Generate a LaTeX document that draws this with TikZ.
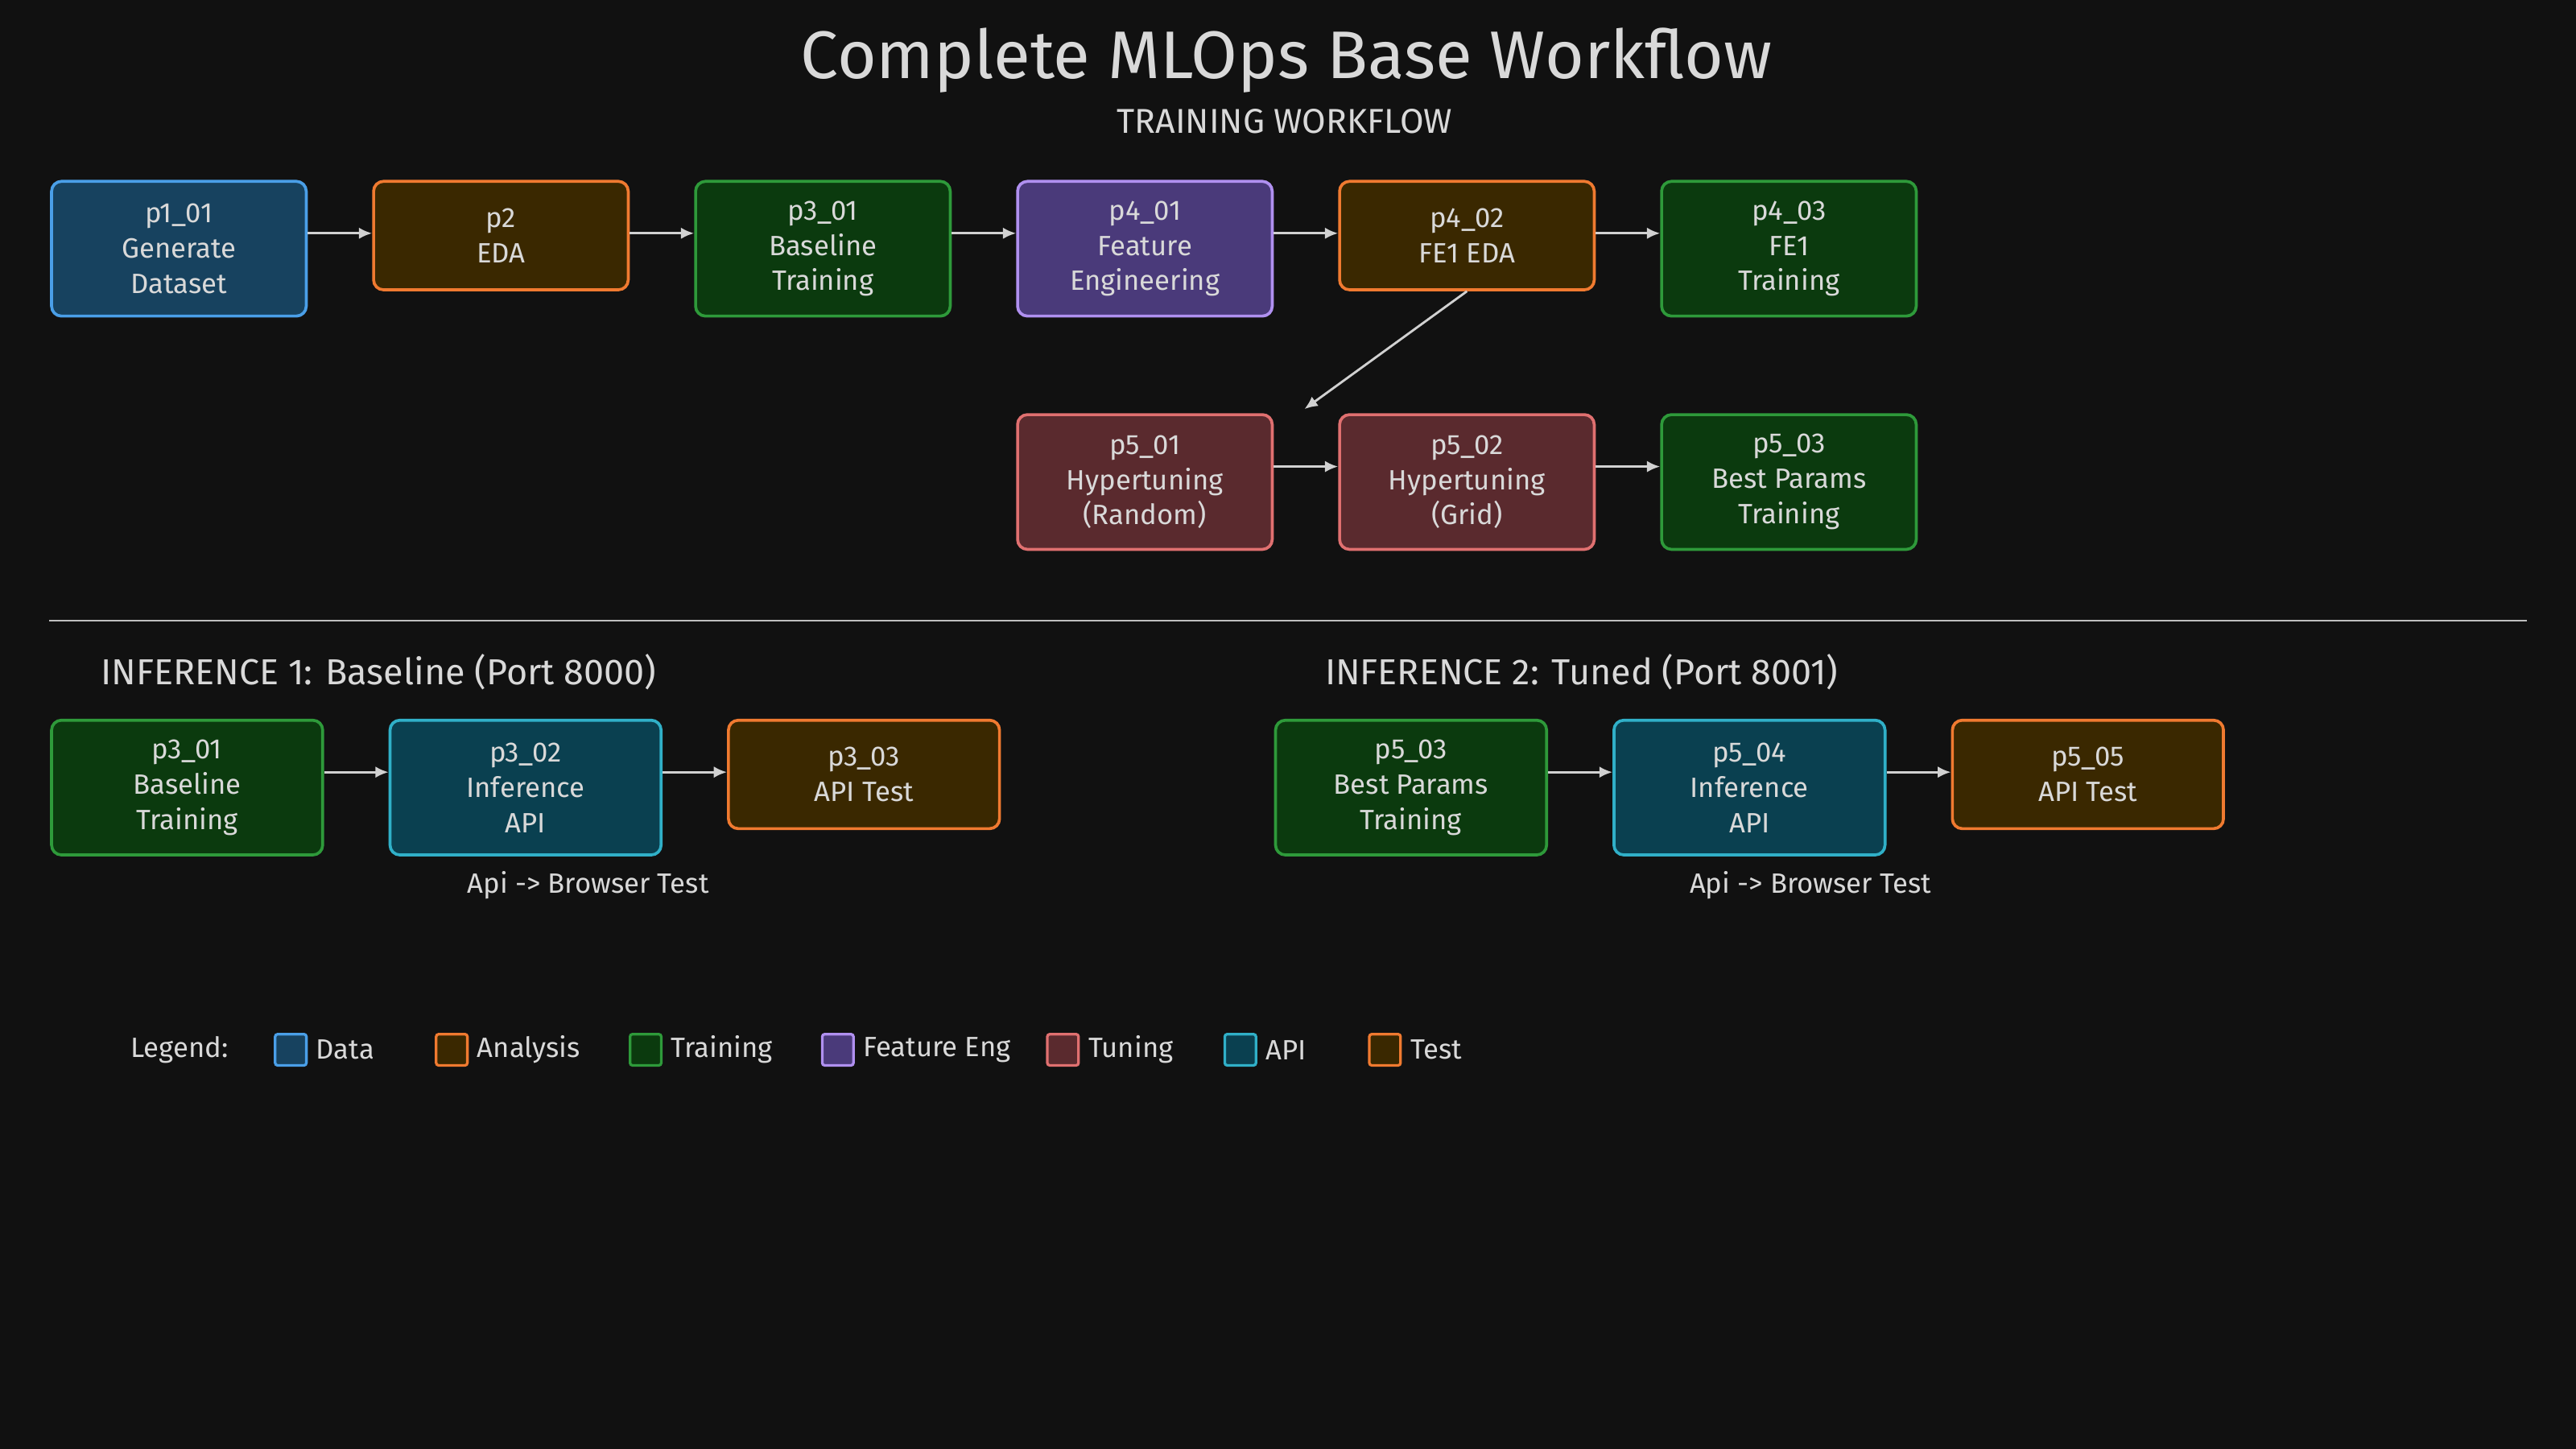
\documentclass[tikz,border=0pt]{standalone}
\usepackage{fontspec}
\setmainfont{Fira Sans}
\begin{document}
\begin{tikzpicture}[x=1pt,y=-1pt,
 box/.style={draw, line width=1.8pt, rounded corners=6pt, anchor=north west, align=center,
   text=white!85!black, font=\fontsize{17}{21.5}\selectfont, inner sep=0pt},
 dat/.style={box, fill=c1f, draw=c1d},
 ana/.style={box, fill=c2f, draw=c2d},
 trn/.style={box, fill=c3f, draw=c3d},
 fe/.style={box, fill=c4f, draw=c4d},
 tun/.style={box, fill=c5f, draw=c5d},
 api/.style={box, fill=c6f, draw=c6d},
 arr/.style={draw=white!82!black, line width=1.4pt, -{Latex[length=8pt,width=7pt]}},
 lab/.style={text=white!85!black},
 leg/.style={draw, line width=1.6pt, rounded corners=1.5pt, minimum size=19pt, inner sep=0pt}
]
\usetikzlibrary{arrows.meta}
\definecolor{bg}{HTML}{111111}
\definecolor{c1f}{HTML}{17425F}\definecolor{c1d}{HTML}{4A9FE8}
\definecolor{c2f}{HTML}{3A2800}\definecolor{c2d}{HTML}{F07A30}
\definecolor{c3f}{HTML}{0B3A0E}\definecolor{c3d}{HTML}{2E9A3A}
\definecolor{c4f}{HTML}{4A3A7A}\definecolor{c4d}{HTML}{B090F0}
\definecolor{c5f}{HTML}{5A2A2E}\definecolor{c5d}{HTML}{E07070}
\definecolor{c6f}{HTML}{0A4050}\definecolor{c6d}{HTML}{30B0C8}
\fill[bg] (0,0) rectangle (1568,882);
\useasboundingbox (0,0) rectangle (1568,882);
\node[lab, font=\fontsize{41}{43}\selectfont] (title) at (783,37) {Complete MLOps Base Workflow};
\node[lab, font=\fontsize{21}{23}\selectfont] (sub) at (782,74) {TRAINING WORKFLOW};
% row 1
\node[dat, minimum width=155pt, minimum height=82pt] (a1) at (30.5,109.5) {p1\_01\\Generate\\Dataset};
\node[ana, minimum width=155pt, minimum height=66pt] (a2) at (226.5,109.5) {p2\\EDA};
\node[trn, minimum width=155pt, minimum height=82pt] (a3) at (422.5,109.5) {p3\_01\\Baseline\\Training};
\node[fe, minimum width=155pt, minimum height=82pt] (a4) at (618.5,109.5) {p4\_01\\Feature\\Engineering};
\node[ana, minimum width=155pt, minimum height=66pt] (a5) at (814.5,109.5) {p4\_02\\FE1 EDA};
\node[trn, minimum width=155pt, minimum height=82pt] (a6) at (1010.5,109.5) {p4\_03\\FE1\\Training};
\foreach \i/\j in {a1/a2,a2/a3,a3/a4,a4/a5,a5/a6}
 \draw[arr] (\i.east |- 0,142) -- (\j.west |- 0,142);
% row 2
\node[tun, minimum width=155pt, minimum height=82pt] (b1) at (618.5,251.5) {p5\_01\\Hypertuning\\(Random)};
\node[tun, minimum width=155pt, minimum height=82pt] (b2) at (814.5,251.5) {p5\_02\\Hypertuning\\(Grid)};
\node[trn, minimum width=155pt, minimum height=82pt] (b3) at (1010.5,251.5) {p5\_03\\Best Params\\Training};
\coordinate (bt) at (794,249);
\draw[arr] (a5.south) -- (bt);
\draw[arr] (b1.east |- 0,284) -- (b2.west |- 0,284);
\draw[arr] (b2.east |- 0,284) -- (b3.west |- 0,284);
% separator
\coordinate (s1) at (30,378); \coordinate (s2) at (1538,378);
\draw[white!75!black, line width=1pt] (s1) -- (s2);
\node[lab, anchor=west, font=\fontsize{22}{24}\selectfont] (i1) at (58,409) {INFERENCE 1: Baseline (Port 8000)};
\node[lab, anchor=west, font=\fontsize{22}{24}\selectfont] (i2) at (803,409) {INFERENCE 2: Tuned (Port 8001)};
% inference 1
\node[trn, minimum width=165pt, minimum height=82pt] (c1) at (30.5,437.5) {p3\_01\\Baseline\\Training};
\node[api, minimum width=165pt, minimum height=82pt] (c2) at (236.5,437.5) {p3\_02\\Inference\\API};
\node[ana, minimum width=165pt, minimum height=66pt] (c3) at (442.5,437.5) {p3\_03\\API Test};
\draw[arr] (c1.east |- 0,470) -- (c2.west |- 0,470);
\draw[arr] (c2.east |- 0,470) -- (c3.west |- 0,470);
\node[lab, font=\fontsize{17}{19}\selectfont] (n1) at (358,539) {Api -> Browser Test};
% inference 2
\node[trn, minimum width=165pt, minimum height=82pt] (d1) at (775.5,437.5) {p5\_03\\Best Params\\Training};
\node[api, minimum width=165pt, minimum height=82pt] (d2) at (981.5,437.5) {p5\_04\\Inference\\API};
\node[ana, minimum width=165pt, minimum height=66pt] (d3) at (1187.5,437.5) {p5\_05\\API Test};
\draw[arr] (d1.east |- 0,470) -- (d2.west |- 0,470);
\draw[arr] (d2.east |- 0,470) -- (d3.west |- 0,470);
\node[lab, font=\fontsize{17}{19}\selectfont] (n2) at (1102,539) {Api -> Browser Test};
% legend
\node[lab, anchor=west, font=\fontsize{17}{19}\selectfont] (lg) at (76,639) {Legend:};
\foreach \x/\f/\d/\t in {177/c1f/c1d/Data,275/c2f/c2d/Analysis,393/c3f/c3d/Training,510/c4f/c4d/Feature Eng,647/c5f/c5d/Tuning,755/c6f/c6d/API,843/c2f/c2d/Test}{
 \node[leg, fill=\f, draw=\d] (l\t) at (\x,639) {};
 \node[lab, anchor=west, font=\fontsize{17}{19}\selectfont] (t\t) at (\x+12,639) {\t};
}
\end{tikzpicture}
\end{document}
